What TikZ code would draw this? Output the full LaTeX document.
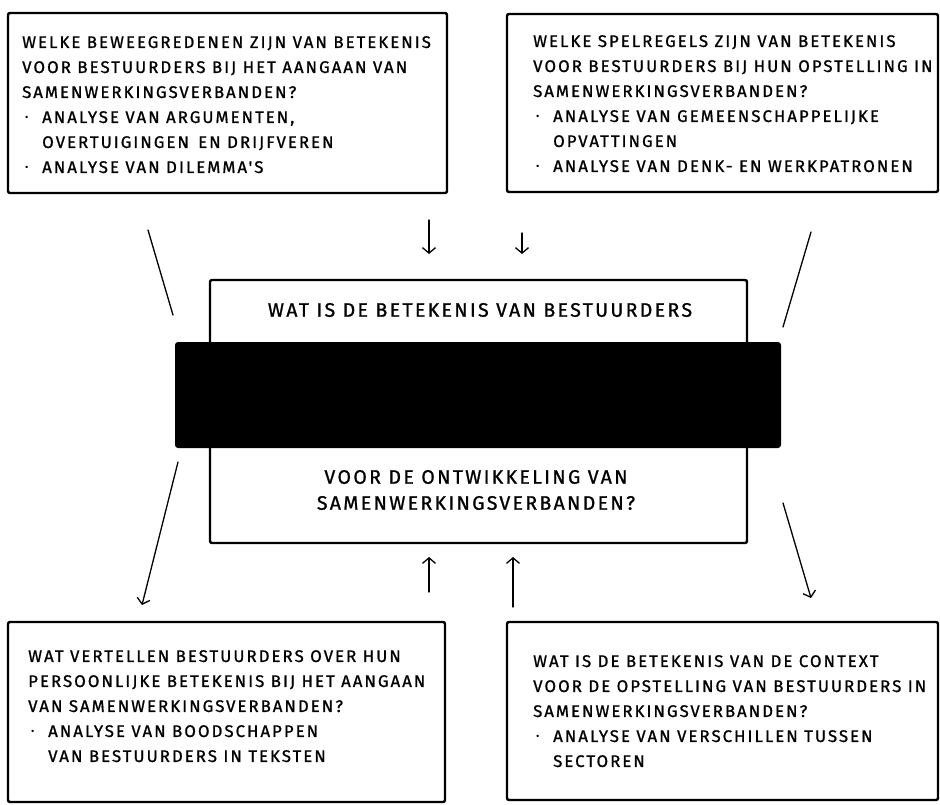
\documentclass[tikz,border=0pt]{standalone}
\usepackage{fontspec}
\newfontfamily\hand[LetterSpace=12,FakeBold=1]{Fira Sans}
\usetikzlibrary{arrows.meta}
\tikzset{
  qbox/.style={draw=black, line width=2.4pt, rounded corners=2pt},
  qtext/.style={inner sep=0pt, anchor=north west, align=left, font=\hand\fontsize{16.8}{25}\selectfont},
  ctext/.style={inner sep=0pt, anchor=center, font=\hand\fontsize{19.5}{25}\selectfont},
  conn/.style={line width=1.3pt, line cap=round},
  arr/.style={conn, -{Straight Barb[length=5.5pt,width=13pt,line width=1.3pt]}},
}
\newcommand{\bul}{\makebox[20pt][l]{\hspace*{3pt}\raisebox{3pt}{\fontsize{9}{9}\selectfont •}}}
\newcommand{\ind}{\hspace*{20pt}}
\begin{document}
\begin{tikzpicture}[x=1pt,y=-1pt]
\useasboundingbox (0,0) rectangle (940,804);
% corner boxes
\draw[qbox] (8,13) rectangle (447,193);
\draw[qbox] (507,14) rectangle (938,192);
\draw[qbox] (8,622) rectangle (445,802);
\draw[qbox] (507,622) rectangle (938,800);
% centre box
\draw[qbox] (210,280) rectangle (747,543);
\fill[black, rounded corners=3pt] (175,342) rectangle (781,448);
\coordinate (band) at (478,395);

\node[qtext] (tl) at (22,36) {WELKE BEWEEGREDENEN ZIJN VAN BETEKENIS\\
VOOR BESTUURDERS BIJ HET AANGAAN VAN\\
SAMENWERKINGSVERBANDEN?\\
\bul ANALYSE VAN ARGUMENTEN,\\
\ind OVERTUIGINGEN\, EN DRIJFVEREN\\
\bul ANALYSE VAN DILEMMA'S};

\node[qtext] (tr) at (533,35) {WELKE SPELREGELS ZIJN VAN BETEKENIS\\
VOOR BESTUURDERS BIJ HUN OPSTELLING IN\\
SAMENWERKINGSVERBANDEN?\\
\bul ANALYSE VAN GEMEENSCHAPPELIJKE\\
\ind OPVATTINGEN\\
\bul ANALYSE VAN DENK- EN WERKPATRONEN};

\node[qtext] (bl) at (28,650) {WAT VERTELLEN BESTUURDERS OVER HUN\\
PERSOONLIJKE BETEKENIS BIJ HET AANGAAN\\
VAN SAMENWERKINGSVERBANDEN?\\
\bul ANALYSE VAN BOODSCHAPPEN\\
\ind VAN BESTUURDERS IN TEKSTEN};

\node[qtext] (br) at (533,655) {WAT IS DE BETEKENIS VAN DE CONTEXT\\
VOOR DE OPSTELLING VAN BESTUURDERS IN\\
SAMENWERKINGSVERBANDEN?\\
\bul ANALYSE VAN VERSCHILLEN TUSSEN\\
\ind SECTOREN};

\node[ctext] (c1) at (480,310) {WAT IS DE BETEKENIS VAN BESTUURDERS};
\node[ctext] (c2) at (476,477) {VOOR DE ONTWIKKELING VAN};
\node[ctext] (c3) at (476,503) {SAMENWERKINGSVERBANDEN?};

% connectors
\coordinate (d1s) at (429,220); \coordinate (d1e) at (429,254);
\coordinate (d2s) at (522,233); \coordinate (d2e) at (522,254);
\coordinate (u1s) at (429,592); \coordinate (u1e) at (429,557);
\coordinate (u2s) at (513,607); \coordinate (u2e) at (513,557);
\coordinate (l1s) at (148,230); \coordinate (l1e) at (173,315);
\coordinate (l2s) at (178,462); \coordinate (l2e) at (142,605);
\coordinate (r1s) at (811,232); \coordinate (r1e) at (783,327);
\coordinate (r2s) at (783,503); \coordinate (r2e) at (811,598);
\draw[arr] (d1s) -- (d1e);
\draw[arr] (d2s) -- (d2e);
\draw[arr] (u1s) -- (u1e);
\draw[arr] (u2s) -- (u2e);
\draw[conn] (l1s) -- (l1e);
\draw[arr] (l2s) -- (l2e);
\draw[conn] (r1s) -- (r1e);
\draw[arr] (r2s) -- (r2e);
\end{tikzpicture}
\end{document}
